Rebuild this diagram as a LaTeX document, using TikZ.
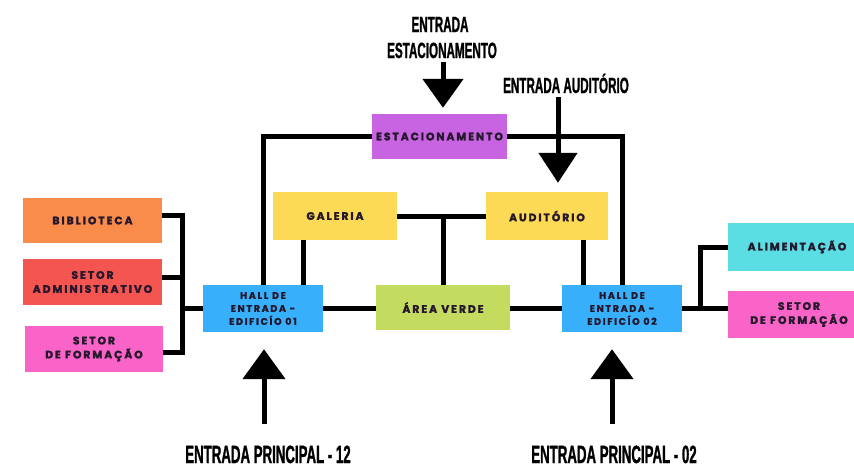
\documentclass[tikz,border=0pt]{standalone}
\usepackage{fontspec}
\usetikzlibrary{arrows.meta,backgrounds}
\newfontfamily\boxfont[LetterSpace=18,FakeBold=2]{Poppins}
\newfontfamily\condfont[FakeStretch=0.53,FakeBold=1]{Liberation Sans}
\definecolor{lbl}{RGB}{38,24,44}
\definecolor{corange}{RGB}{250,140,75}
\definecolor{cred}{RGB}{245,85,80}
\definecolor{cpink}{RGB}{250,100,200}
\definecolor{cblue}{RGB}{55,175,250}
\definecolor{cyellow}{RGB}{252,218,85}
\definecolor{cpurple}{RGB}{200,100,225}
\definecolor{cgreen}{RGB}{195,220,95}
\definecolor{ccyan}{RGB}{90,222,228}
\tikzset{
  box/.style={rectangle, inner sep=0pt, text=lbl, align=center,
    font=\boxfont\bfseries\fontsize{10.8}{14}\selectfont},
  hallbox/.style={box, fill=cblue, minimum width=120pt, minimum height=47pt,
    font=\boxfont\bfseries\fontsize{9.5}{13}\selectfont},
  conn/.style={line width=5pt},
  bigarrow/.style={line width=5pt, -{Triangle[width=40pt,length=29pt]}},
  lab/.style={inner sep=0pt, anchor=base, text=black, font=\condfont\bfseries\fontsize{22}{26}\selectfont},
  blab/.style={lab, font=\condfont\bfseries\fontsize{25}{30}\selectfont}
}
\begin{document}
\begin{tikzpicture}[x=1pt,y=-1pt]
\useasboundingbox (0,0) rectangle (854,467);
\clip (0,0) rectangle (854,467);
% boxes
\node[box, fill=corange, minimum width=139pt, minimum height=45pt] (bib) at (92.5,220.5) {BIBLIOTECA};
\node[box, fill=cred, minimum width=139pt, minimum height=46pt] (sa) at (92.5,282) {SETOR\\ADMINISTRATIVO};
\node[box, fill=cpink, minimum width=138pt, minimum height=46pt] (sf1) at (94,349) {SETOR\\DE FORMAÇÃO};
\node[hallbox] (h1) at (263,308.5) {HALL DE\\ENTRADA -\\EDIFICÍO 01};
\node[box, fill=cyellow, minimum width=124pt, minimum height=48pt] (gal) at (335,216) {GALERIA};
\node[box, fill=cyellow, minimum width=122pt, minimum height=48pt] (aud) at (547,216) {AUDITÓRIO};
\node[box, fill=cpurple, minimum width=135pt, minimum height=45pt] (est) at (439.5,136.5) {ESTACIONAMENTO};
\node[box, fill=cgreen, minimum width=134pt, minimum height=45pt] (av) at (443,307.5) {ÁREA VERDE};
\node[hallbox] (h2) at (622,308.5) {HALL DE\\ENTRADA -\\EDIFICÍO 02};
\node[box, fill=ccyan, minimum width=138pt, minimum height=48pt] (ali) at (797,247) {ALIMENTAÇÃO};
\node[box, fill=cpink, minimum width=142pt, minimum height=47pt] (sf2) at (799,314.5) {SETOR\\DE FORMAÇÃO};
% labels
\node[lab] (le1a) at (440,32) {ENTRADA};
\node[lab] (le1b) at (442,58) {ESTACIONAMENTO};
\node[lab] (le2) at (566,93) {ENTRADA AUDITÓRIO};
\node[blab] (lp1) at (268,463) {ENTRADA PRINCIPAL - 12};
\node[blab] (lp2) at (614,463) {ENTRADA PRINCIPAL - 02};
% connectors
\coordinate (bl) at (182,0);
\coordinate (g1) at (303,0);
\coordinate (a1) at (583,0);
\coordinate (rb) at (700,0);
\coordinate (e1) at (443,62);
\coordinate (e2) at (558,97);
\coordinate (e3) at (264,424);
\coordinate (e4) at (612,424);
\begin{scope}[on background layer]
\fill[white] (0,0) rectangle (854,467);
\draw[conn] ([yshift=5pt]bib.east) -| ([yshift=-3pt]sf1.east -| bl) -- ([yshift=-3pt]sf1.east);
\draw[conn] ([yshift=5pt]sa.east) -- ([yshift=5pt]sa.east -| bl);
\draw[conn] (h1.west -| bl) -- (h1.west);
\draw[conn] (h1.east) -- (h1.east -| av.west);
\draw[conn] (h2.west -| av.east) -- (h2.west);
\draw[conn] (h1.north) |- (est.west);
\draw[conn] (est.east) -| (h2.north);
\draw[conn] (gal.south -| g1) -- (h1.north -| g1);
\draw[conn] (gal.east) -- (aud.west);
\draw[conn] (av.north) -- (av.north |- gal.east);
\draw[conn] (aud.south -| a1) -- (h2.north -| a1);
\draw[conn] (h2.east) -- (h2.east -| sf2.west);
\draw[conn] (h2.east -| rb) |- (ali.west);
\end{scope}
\draw[bigarrow, shorten >=6pt] (e1) -- (e1 |- est.north);
\draw[bigarrow, shorten >=9pt, -{Triangle[width=38pt,length=30pt]}] (e2) -- (e2 |- aud.north);
\draw[bigarrow, shorten >=17pt, -{Triangle[width=42pt,length=30pt]}] (e3) -- (e3 |- h1.south);
\draw[bigarrow, shorten >=17pt, -{Triangle[width=42pt,length=30pt]}] (e4) -- (e4 |- h2.south);
\end{tikzpicture}
\end{document}
